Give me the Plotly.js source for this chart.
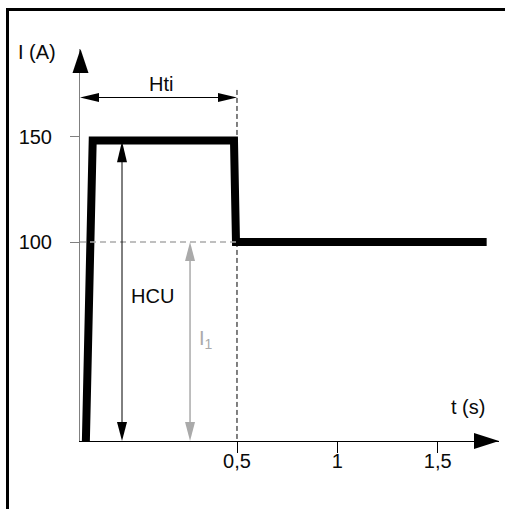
<!DOCTYPE html>
<html>
<head>
<meta charset="utf-8">
<script src="https://cdn.plot.ly/plotly-3.0.1.min.js"></script>
<style>html,body{margin:0;padding:0;background:#fff;}#chart{width:505px;height:509px;}</style>
</head>
<body>
<div id="chart"></div>
<script>
// ---- data ----
const timeS = [-0.253, -0.219, 0.485, 0.495, 1.744];
const currentA = [5.24, 148.3, 148.3, 100, 100];
const xTickVals = [0.5, 1, 1.5];
const xTickText = ['0,5', '1', '1,5'];
const yTickVals = [100, 150];
const yTickText = ['100', '150'];
const htiEnd = 0.5;        // end of the hot-start time
const hcuLevel = 148;      // HCU arrow top
const i1Level = 100;       // I1 arrow top
const hcuT = -0.073;       // position of HCU arrow
const i1T = 0.266;         // position of I1 arrow
const xRange = [-0.2823, 1.8055];
const yRange = [5.24, 191.9];

// ---- geometry helpers ----
const W = 505, H = 509;
const M = {l: 80, r: 6, t: 49, b: 68};
const pw = W - M.l - M.r, ph = H - M.t - M.b;
const px = t => M.l + (t - xRange[0]) / (xRange[1] - xRange[0]) * pw;
const py = v => M.t + (yRange[1] - v) / (yRange[1] - yRange[0]) * ph;
const fx = p => (p - M.l) / pw;
const fy = p => (H - M.b - p) / ph;
const P = (x, y) => fx(x) + ',' + fy(y);
const tri = (pts, color) => ({type: 'path', xref: 'paper', yref: 'paper', layer: 'above',
  path: 'M' + pts.map(p => P(p[0], p[1])).join(' L') + ' Z', fillcolor: color, line: {width: 0}});
const seg = (x0, y0, x1, y1, color, width, dash) => ({type: 'line', xref: 'paper', yref: 'paper', layer: 'above',
  x0: fx(x0), y0: fy(y0), x1: fx(x1), y1: fy(y1), line: {color: color, width: width, dash: dash || 'solid'}});

const FONT = 'Liberation Sans';
const TXT = '#0a0a0a';
const GRAY = '#aaaaaa';
const AXGRAY = '#808080';

const x0p = px(xRange[0]), xEp = px(xRange[1]);
const yBp = py(yRange[0]), yTp = py(yRange[1]);

const shapes = [];
// frame (top and left)
shapes.push(seg(6, 9.5, 505, 9.5, '#000', 3));
shapes.push(seg(7.5, 8, 7.5, 509, '#000', 3));
// axis arrow heads
shapes.push(tri([[x0p + 0.5, yTp], [x0p - 7.5, yTp + 24], [x0p + 8.5, yTp + 24]], '#000'));
shapes.push(tri([[xEp, yBp], [xEp - 25, yBp - 8], [xEp - 25, yBp + 8]], '#000'));
// dashed guide at I1 level
shapes.push(seg(x0p, py(i1Level), px(htiEnd), py(i1Level), GRAY, 1.3, '6px,4px'));
// dashed vertical at Hti end
shapes.push(seg(px(htiEnd), py(172.4), px(htiEnd), yBp, '#000', 1, '5px,3px'));
// Hti double arrow
const hy = py(168.8);
shapes.push(seg(x0p + 10, hy, px(htiEnd) - 10, hy, '#000', 1));
shapes.push(tri([[x0p, hy], [x0p + 19, hy - 4.5], [x0p + 19, hy + 4.5]], '#000'));
shapes.push(tri([[px(htiEnd), hy], [px(htiEnd) - 19, hy - 4.5], [px(htiEnd) - 19, hy + 4.5]], '#000'));
// HCU double arrow
const hx = px(hcuT);
shapes.push(seg(hx, py(hcuLevel) + 10, hx, yBp - 10, '#000', 1));
shapes.push(tri([[hx, py(hcuLevel)], [hx - 5, py(hcuLevel) + 21], [hx + 5, py(hcuLevel) + 21]], '#000'));
shapes.push(tri([[hx, yBp], [hx - 5, yBp - 19], [hx + 5, yBp - 19]], '#000'));
// I1 double arrow
const ix = px(i1T);
shapes.push(seg(ix, py(i1Level) + 10, ix, yBp - 10, GRAY, 1.5));
shapes.push(tri([[ix, py(i1Level)], [ix - 5, py(i1Level) + 19], [ix + 5, py(i1Level) + 19]], GRAY));
shapes.push(tri([[ix, yBp], [ix - 5, yBp - 19], [ix + 5, yBp - 19]], GRAY));

const ann = (text, x, y, size, color) => ({text: text, xref: 'paper', yref: 'paper', x: fx(x), y: fy(y),
  xanchor: 'center', yanchor: 'middle', showarrow: false, font: {family: FONT, size: size, color: color || TXT}});

const annotations = [
  ann('I (A)', 37, 52, 20),
  ann('Hti', 160.5, 84, 20),
  ann('HCU', 152.5, 296, 20),
  ann('I<sub>1</sub>', 206, 339, 20, GRAY),
  ann('t (s)', 468, 407, 20)
];

const trace = {
  x: timeS, y: currentA, type: 'scatter', mode: 'lines',
  line: {color: '#000', width: 8}, hoverinfo: 'skip'
};

const layout = {
  width: W, height: H,
  margin: M,
  paper_bgcolor: '#fff', plot_bgcolor: '#fff',
  showlegend: false,
  font: {family: FONT, size: 20, color: TXT},
  xaxis: {range: xRange, showgrid: false, zeroline: false, showline: true, linecolor: '#000', linewidth: 1,
    ticks: 'outside', ticklen: 11, tickwidth: 1, tickcolor: '#000', ticklabelstandoff: -9,
    tickvals: xTickVals, ticktext: xTickText, tickfont: {family: FONT, size: 20, color: TXT}},
  yaxis: {range: yRange, showgrid: false, zeroline: false, showline: true, linecolor: AXGRAY, linewidth: 1,
    ticks: 'outside', ticklen: 9, tickwidth: 1, tickcolor: AXGRAY, ticklabelstandoff: 14,
    tickvals: yTickVals, ticktext: yTickText, tickfont: {family: FONT, size: 20, color: TXT}},
  shapes: shapes,
  annotations: annotations
};

Plotly.newPlot('chart', [trace], layout, {displayModeBar: false, staticPlot: true});
</script>
</body>
</html>
